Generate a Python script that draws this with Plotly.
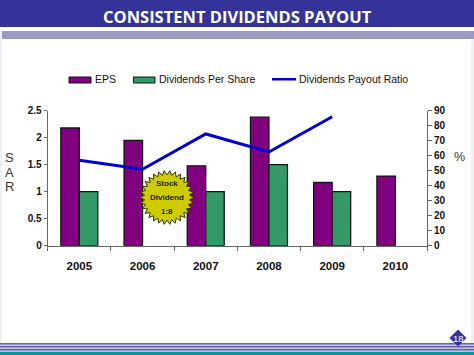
import math
import plotly.graph_objects as go

W, H = 474, 355
years = ["2005", "2006", "2007", "2008", "2009", "2010"]
eps = [2.18, 1.95, 1.48, 2.38, 1.17, 1.29]
dps = [1.0, None, 1.0, 1.5, 1.0, None]
payout = [57, 51, 74.5, 62.5, 86, None]
left_ticks = [0, 0.5, 1, 1.5, 2, 2.5]
left_labels = ["0", "0.5", "1", "1.5", "2", "2.5"]
right_ticks = [0, 10, 20, 30, 40, 50, 60, 70, 80, 90]
title_text = "CONSISTENT DIVIDENDS PAYOUT"
burst_lines = ["Stock", "Dividend", "1:8"]
series_names = ["EPS", "Dividends Per Share", "Dividends Payout Ratio"]

PURPLE, GREEN, BLUE, EDGE = "#800080", "#339966", "#0000CC", "#141414"

def px(x): return x / W
def py(y): return 1 - y / H

AX = "Liberation Sans"
fig = go.Figure()
fig.add_bar(x=years, y=eps, name=series_names[0], showlegend=False,
            marker=dict(color=PURPLE, line=dict(color=EDGE, width=1.3)))
fig.add_bar(x=years, y=dps, name=series_names[1], showlegend=False,
            marker=dict(color=GREEN, line=dict(color=EDGE, width=1.3)))
fig.add_scatter(x=years, y=payout, name=series_names[2], mode="lines", yaxis="y2", showlegend=False,
                line=dict(color=BLUE, width=3))

def rect(x0, y0, x1, y1, color, layer="below", edge=None):
    return dict(type="rect", xref="paper", yref="paper", x0=px(x0), x1=px(x1), y0=py(y0), y1=py(y1),
                fillcolor=color, line=dict(width=1 if edge else 0, color=edge), layer=layer)

shapes = [
    rect(0, 0, 474, 27, "#333399"),
    rect(2, 31, 474, 39, "#9999C2"),
    rect(0, 31, 2, 343, "#EFEFF8"),
    rect(471, 39, 474, 343, "#EFEFF8"),
    rect(0, 343, 474, 352, "#C4C4E2"),
    rect(0, 343, 474, 344.5, "#6666AA"),
    rect(0, 346, 474, 347.5, "#6666AA"),
    rect(0, 349, 474, 350.5, "#6666AA"),
    rect(0, 352, 474, 355, "#009999"),
    # legend keys
    rect(69, 77, 91, 83, PURPLE, "above", EDGE),
    rect(133.5, 77, 155, 83, GREEN, "above", EDGE),
    rect(272, 78, 296, 80.5, BLUE, "above"),
]
# starburst badge
cx, cy, n = 167, 197.5, 30
pts = []
for i in range(2 * n):
    r = 27 if i % 2 == 0 else 22.5
    a = math.pi * i / n
    pts.append((px(cx + r * math.cos(a)), py(cy + r * math.sin(a))))
path = "M" + "L".join(f"{a:.5f},{b:.5f}" for a, b in pts) + "Z"
shapes.append(dict(type="path", xref="paper", yref="paper", path=path, fillcolor="#CCCC00",
                   line=dict(color="#333300", width=1), layer="above"))
# page number diamond
dx, dy, d = 458, 338, 8.5
shapes.append(dict(type="path", xref="paper", yref="paper",
                   path=f"M{px(dx-d)},{py(dy)}L{px(dx)},{py(dy-d)}L{px(dx+d)},{py(dy)}L{px(dx)},{py(dy+d)}Z",
                   fillcolor="#333399", line=dict(width=0), layer="above"))

def note(x, y, text, size, color="#111111", family=AX, bold=False, anchor="center"):
    return dict(xref="paper", yref="paper", x=px(x), y=py(y), text=f"<b>{text}</b>" if bold else text,
                showarrow=False, font=dict(size=size, color=color, family=family),
                xanchor=anchor, yanchor="middle", borderpad=0, xshift=0)

annotations = [
    note(237, 16.5, title_text, 16.5, "white", "Open Sans", True),
    note(9, 157, "S", 13, "#333333"), note(9, 172, "A", 13, "#333333"), note(9, 186, "R", 13, "#333333"),
    note(459, 157, "%", 12.5, "#333333"),
    note(458, 338, "18", 9.5, "white", AX, False),
    note(93.5, 79, series_names[0], 10.5, anchor="left"),
    note(157.5, 79, series_names[1], 10.5, anchor="left"),
    note(297.5, 79, series_names[2], 10.5, anchor="left"),
]
for line, yy in zip(burst_lines, [183.5, 197.5, 211.5]):
    annotations.append(note(cx, yy, line, 8, "#222200", AX, True))

bold10 = dict(size=10, family=AX, color="#111111", weight="bold")
fig.update_layout(
    width=W, height=H, margin=dict(l=0, r=0, t=0, b=0, autoexpand=False), autosize=False,
    paper_bgcolor="white", plot_bgcolor="rgba(0,0,0,0)",
    barmode="group", bargap=0.415, bargroupgap=0, showlegend=False,
    shapes=shapes, annotations=annotations,
    xaxis=dict(domain=[px(47.7), px(427)], type="category", tickson="boundaries", ticks="outside", ticklen=4,
               tickcolor="#666666", linecolor="#666666", showline=True, showgrid=False, anchor="y",
               tickfont=dict(size=11.5, family=AX, color="#111111", weight="bold"), ticklabelstandoff=9),
    yaxis=dict(domain=[py(245.7), py(110.7)], range=[0, 2.5], tickvals=left_ticks, ticktext=left_labels,
               ticks="outside", ticklen=3, tickcolor="#666666", linecolor="#666666", showline=True,
               showgrid=False, zeroline=False, tickfont=bold10),
    yaxis2=dict(domain=[py(245.7), py(110.7)], range=[0, 90], tickvals=right_ticks, overlaying="y", side="right",
                anchor="x", ticks="outside", ticklen=4, tickcolor="#666666", linecolor="#666666", showline=True,
                showgrid=False, zeroline=False, tickfont=bold10),
)
fig.write_html("out.html", post_script="document.body.style.margin='0';", config=dict(displayModeBar=False))
